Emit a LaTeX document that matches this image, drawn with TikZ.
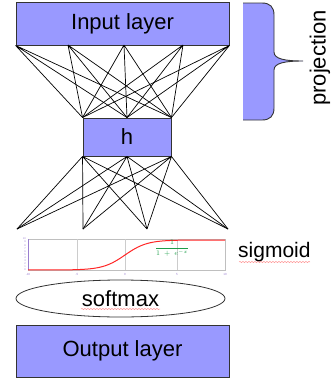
\documentclass[tikz,border=0pt]{standalone}
\usepackage{fontspec}
\setmainfont{Liberation Sans}
\usetikzlibrary{shapes.geometric,decorations.pathmorphing}
\definecolor{layerblue}{HTML}{9999FF}
\definecolor{tickpurple}{HTML}{9A7FD0}
\definecolor{formgreen}{HTML}{1E9E4A}
\tikzset{
  layerbox/.style={draw=black!80, line width=0.9pt, fill=layerblue, inner sep=0pt,
    font=\fontsize{22}{26}\selectfont},
  wire/.style={line width=0.7pt, black},
  spellmark/.style={red!60, line width=0.4pt, decorate,
    decoration={snake, amplitude=0.5pt, segment length=3pt}}
}
\begin{document}
\begin{tikzpicture}[x=1pt, y=-1pt]
    \useasboundingbox (0,0) rectangle (335,380);

% layers
    \node[layerbox, minimum width=213pt, minimum height=43pt] (inp) at (122.5,23.5) {Input layer};
    \node[layerbox, minimum width=88pt, minimum height=38pt] (h) at (127,137) {h};
    \node[layerbox, minimum width=213pt, minimum height=52pt] (out) at (122.5,351) {Output layer};
    \node[draw=black!80, line width=0.8pt, ellipse, minimum width=209pt, minimum height=37pt,
      inner sep=0pt, font=\fontsize{22}{26}\selectfont] (soft) at (120.5,298.5) {softmax};
    \draw[spellmark] (81,309) -- (160,309);

% points on the input layer
    \coordinate (i1) at (inp.south west);
    \coordinate (i2) at (68,45);
    \coordinate (i3) at (124,45);
    \coordinate (i4) at (183,45);
    \coordinate (i5) at (inp.south east);
% points under h
    \coordinate (o1) at (17,229);
    \coordinate (o2) at (83,229);
    \coordinate (o3) at (147,229);
    \coordinate (o4) at (228,229);

    % input -> h
    \draw[wire] (i1) -- (h.north west) (i1) -- (h.north) (i1) -- (h.north east);
    \draw[wire] (i2) -- (h.north west) (i2) -- (h.north) (i2) -- (h.north east);
    \draw[wire] (i3) -- (h.north west) (i3) -- (h.north) (i3) -- (h.north east);
    \draw[wire] (i4) -- (h.north west) (i4) -- (h.north) (i4) -- (h.north east);
    \draw[wire] (i5) -- (h.north west) (i5) -- (h.north) (i5) -- (h.north east);
    % h -> below
    \draw[wire] (h.south west) -- (o1) (h.south west) -- (o2) (h.south west) -- (o3) (h.south west) -- (o4);
    \draw[wire] (h.south) -- (o1) (h.south) -- (o2) (h.south) -- (o3) (h.south) -- (o4);
    \draw[wire] (h.south east) -- (o1) (h.south east) -- (o2) (h.south east) -- (o3) (h.south east) -- (o4);

% the brace
    \fill[layerblue] (243,3) -- (262,3) .. controls (270,3) and (274,7) .. (274,15) -- (274,52)
      .. controls (274,59) and (285,61) .. (303,61) .. controls (285,61) and (274,63) .. (274,70)
      -- (274,108) .. controls (274,116) and (270,120) .. (262,120) -- (243,120) -- cycle;
    \draw[black!80, line width=0.9pt] (243,3) -- (262,3) .. controls (270,3) and (274,7) .. (274,15) -- (274,52)
      .. controls (274,59) and (285,61) .. (303,61) .. controls (285,61) and (274,63) .. (274,70)
      -- (274,108) .. controls (274,116) and (270,120) .. (262,120) -- (243,120);
    \node[rotate=90, font=\fontsize{22}{26}\selectfont] (proj) at (320,58) {projection};

% the sigmoid plot
    \begin{scope}
    \draw[black!25, line width=0.4pt] (28,239) rectangle (225,270);
    \draw[black!20, line width=0.4pt] (77,239) -- (77,270) (125,239) -- (125,270) (177,239) -- (177,270);
    \draw[tickpurple, line width=0.4pt] (28,239) -- (28,270);
    \foreach \k in {0,...,10}
      \node[tickpurple, font=\fontsize{2.6}{3}\selectfont, inner sep=0pt, anchor=east] at (26,270-3.1*\k) {\k};
    \node[tickpurple, font=\fontsize{3}{3}\selectfont, inner sep=0pt] (xa) at (28,274) {-10};
    \node[tickpurple, font=\fontsize{3}{3}\selectfont, inner sep=0pt] (xb) at (77,274) {-5};
    \node[tickpurple, font=\fontsize{3}{3}\selectfont, inner sep=0pt] (xc) at (125,274) {0};
    \node[tickpurple, font=\fontsize{3}{3}\selectfont, inner sep=0pt] (xd) at (177,274) {5};
    \node[tickpurple, font=\fontsize{3}{3}\selectfont, inner sep=0pt] (xe) at (225,274) {10};
    \draw[red!85, line width=1pt, domain=28:225, samples=80, smooth]
      plot (\x, {270-30/(1+exp(-(\x-125)/11))});
    \node[formgreen, font=\fontsize{7}{8}\selectfont, inner sep=0pt] (form) at (172,248)
      {$\displaystyle\frac{1}{1\;+\;e^{-x}}$};
    \end{scope}
    \node[font=\fontsize{21}{25}\selectfont, anchor=west, inner sep=0pt] (sig) at (238,252) {sigmoid};
    \draw[spellmark] (239,262) -- (310,262);
\end{tikzpicture}
\end{document}
